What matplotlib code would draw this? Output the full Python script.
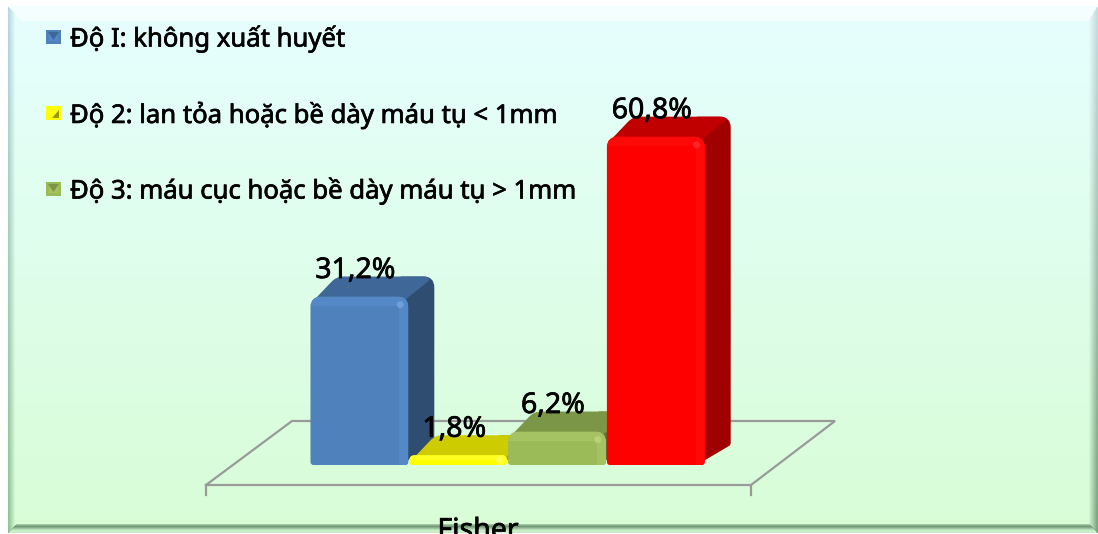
"""Fisher grade bar chart with a bevelled panel and pseudo-3D bars."""

import matplotlib
matplotlib.use("Agg")
import matplotlib.pyplot as plt
import matplotlib.patches as mpatches
import matplotlib.patheffects as pe
from matplotlib.path import Path
import numpy as np

plt.rcParams["font.family"] = ["Noto Sans", "DejaVu Sans"]

# ---------------------------------------------------------------------------
# Data
# ---------------------------------------------------------------------------
grades = [
    "Độ I: không xuất huyết",
    "Độ 2: lan tỏa hoặc bề dày máu tụ < 1mm",
    "Độ 3: máu cục hoặc bề dày máu tụ > 1mm",
]
values = [31.2, 1.8, 6.2, 60.8]
value_labels = ["31,2%", "1,8%", "6,2%", "60,8%"]
axis_label = "Fisher"

front_colors = ["#4F81BD", "#FFFF00", "#9BBB59", "#FF0000"]
light_colors = ["#5588C6", "#FFFF20", "#A5C362", "#FF0808"]
shine_colors = ["#7FB0E8", "#FFFF70", "#C8DE80", "#FF3A3A"]
top_colors = ["#3F6797", "#CCCC00", "#7C9647", "#C00000"]
side_colors = ["#2F4D71", "#999900", "#5D7035", "#A00000"]

# ---------------------------------------------------------------------------
# Layout (pixels)
# ---------------------------------------------------------------------------
W, H = 1098, 534
PX_PER_BAR = 98.8      # one bar slot along x
PX_PER_PCT = 5.4       # one percent along y
LEFT_PX = 310          # left edge of first bar
BASE_PX = 465          # baseline measured from the top
DEPTH_X = 26 / PX_PER_BAR
DEPTH_Y = 20 / PX_PER_PCT

fig = plt.figure(figsize=(W / 100, H / 100), dpi=100)
ax = fig.add_axes([0, 0, 1, 1])
ax.set_xlim(-LEFT_PX / PX_PER_BAR, (W - LEFT_PX) / PX_PER_BAR)
ax.set_ylim(-(H - BASE_PX) / PX_PER_PCT, BASE_PX / PX_PER_PCT)
ax.axis("off")

thick = [pe.withStroke(linewidth=0.5, foreground="black")]


def px(x, y):
    """Pixel position from the top-left corner, as axes fractions."""
    return x / W, 1 - y / H


def panel_poly(points, color, zorder=1):
    ax.add_patch(mpatches.Polygon([px(*p) for p in points], closed=True, fc=color,
                                  ec="none", transform=ax.transAxes, zorder=zorder))


def rounded_path(points, radii):
    """Closed path through data points, each corner rounded by a radius in pixels."""
    scale = np.array([PX_PER_BAR, PX_PER_PCT])
    pts = np.array(points) * scale
    verts, codes = [], []
    n = len(pts)
    for k in range(n):
        p, prev, nxt = pts[k], pts[k - 1], pts[(k + 1) % n]
        to_prev = (prev - p) / np.linalg.norm(prev - p)
        to_next = (nxt - p) / np.linalg.norm(nxt - p)
        r = radii[k]
        verts += [p + to_prev * r, p, p + to_next * r]
        codes += [Path.LINETO, Path.CURVE3, Path.CURVE3]
    codes[0] = Path.MOVETO
    verts.append(verts[0])
    codes.append(Path.CLOSEPOLY)
    return Path(np.array(verts) / scale, codes)


# ---------------------------------------------------------------------------
# Panel: vertical gradient plus soft bevels on each edge
# ---------------------------------------------------------------------------
PANEL = (8, 6, 1097, 532)
BAND_L, BAND_R, BAND_T, BAND_B = 7.0, 9.0, 15.0, 9.0

yy, xx = np.mgrid[0:H, 0:W].astype(float)
t = np.clip((yy - PANEL[1]) / (PANEL[3] - PANEL[1]), 0, 1)[..., None]
top_rgb = np.array([0xE6, 0xFF, 0xFF]) / 255
bottom_rgb = np.array([0xD8, 0xFD, 0xD6]) / 255
img = top_rgb + (bottom_rgb - top_rgb) * t

d_left = xx - PANEL[0]
d_right = PANEL[2] - xx
d_top = yy - PANEL[1]
d_bot = PANEL[3] - yy

left_rgb = np.array([0.72, 0.84, 0.88]) * (1 - t) + np.array([0.56, 0.76, 0.58]) * t
right_rgb = np.array([0.78, 0.86, 0.88]) * (1 - t) + np.array([0.47, 0.63, 0.49]) * t
top_band = np.array([0.97, 1.0, 1.0])
bottom_band = np.array([0.45, 0.60, 0.47])


def blend(base, mask, rgb):
    return base * (1 - mask[..., None]) + rgb * mask[..., None]


in_left = (d_left < BAND_L) & (d_left <= d_top) & (d_left <= d_bot)
img = blend(img, np.where(in_left, 1 - d_left / BAND_L, 0.0), left_rgb)
in_right = (d_right < BAND_R) & (d_right <= d_top) & (d_right <= d_bot)
img = blend(img, np.where(in_right, 1 - d_right / BAND_R, 0.0), right_rgb)
in_top = (d_top < BAND_T) & (d_top <= d_left * 1.1) & (d_top <= d_right * 1.6)
img = blend(img, np.where(in_top, 0.85, 0.0), top_band)
in_bot = (d_bot < BAND_B) & (d_bot <= d_left) & (d_bot <= d_right)
img = blend(img, np.where(in_bot, np.clip(1 - np.abs(d_bot - 6) / 4.5, 0.15, 1), 0.0), bottom_band)

img[(d_left < 0) | (d_right < 0) | (d_top < 0) | (d_bot < 0)] = 1.0
ax.imshow(img, aspect="auto", zorder=0, extent=(0, 1, 0, 1), transform=ax.transAxes,
          interpolation="nearest", origin="upper")

# Floor of the 3D plot
floor = [(206, 485), (292, 421), (835, 421), (751, 485), (206, 485)]
ax.plot(*zip(*[px(*p) for p in floor]), color="#9A9A9A", lw=1.6,
        transform=ax.transAxes, zorder=1, solid_joinstyle="miter")
for tick_x in (206, 751):
    ax.plot(*zip(px(tick_x, 485), px(tick_x, 495)), color="#9A9A9A", lw=1.6,
            transform=ax.transAxes, zorder=1)


# ---------------------------------------------------------------------------
# Bars
# ---------------------------------------------------------------------------
def draw_bar(i, value):
    x0, x1 = i + 0.005, i + 0.995
    z = 4 + i
    back = value + DEPTH_Y
    inset_x = 8 / PX_PER_BAR
    inset_y = 8 / PX_PER_PCT
    low_r = min(3, value * PX_PER_PCT * 0.3)
    high_r = min(11, value * PX_PER_PCT * 0.55)

    # Right side and top run back from the front face
    side = rounded_path([(x1 - inset_x, 0), (x1 + DEPTH_X, DEPTH_Y), (x1 + DEPTH_X, back),
                         (x1 - inset_x, back)], [1, 2, 11, 1])
    ax.add_patch(mpatches.PathPatch(side, fc=side_colors[i], ec="none", zorder=z + 0.1))
    top = rounded_path([(x0 + inset_x * 0.3, value - inset_y * 0.6), (x0 + DEPTH_X, back),
                        (x1 + DEPTH_X, back), (x1 - inset_x * 0.5, value - inset_y * 0.5)],
                       [1, 7, 11, 1])
    ax.add_patch(mpatches.PathPatch(top, fc=top_colors[i], ec="none", zorder=z + 0.15))

    front = mpatches.PathPatch(
        rounded_path([(x0, 0), (x1, 0), (x1, value), (x0, value)],
                     [low_r, low_r, high_r, high_r]),
        fc=front_colors[i], ec="none", zorder=z + 0.2)
    ax.add_patch(front)

    # Lighter bevel along the top and right of the front face
    edge_x = 9 / PX_PER_BAR
    edge_y = min(9, value * PX_PER_PCT * 0.5) / PX_PER_PCT
    for rect in (mpatches.Rectangle((x1 - edge_x, 0), edge_x, value),
                 mpatches.Rectangle((x0, value - edge_y), x1 - x0, edge_y)):
        rect.set(fc=light_colors[i], ec="none", zorder=z + 0.3)
        ax.add_patch(rect)
        rect.set_clip_path(front)
    ax.add_patch(mpatches.Ellipse((x1 - edge_x * 0.9, value - edge_y * 0.9),
                                  7 / PX_PER_BAR, 7 / PX_PER_PCT, fc=shine_colors[i],
                                  ec="none", alpha=0.6, zorder=z + 0.4))


for i, value in enumerate(values):
    draw_bar(i, value)

# Value labels sit just above the back edge of each bar
for i, (value, text) in enumerate(zip(values, value_labels)):
    ax.annotate(text, (i + 0.5, value), xytext=(-4 * 0.72, 26 * 0.72),
                textcoords="offset points", ha="center", va="center", fontsize=20.5,
                color="black", zorder=20, path_effects=thick)

# Legend
legend_y = [37, 113, 189]
for i, (y, text) in enumerate(zip(legend_y, grades)):
    panel_poly([(46, y - 7), (61, y - 7), (61, y + 7), (46, y + 7)], front_colors[i], zorder=6)
    panel_poly([(49, y - 4), (58, y - 4), (58, y + 4), (49, y + 4)], light_colors[i], zorder=6.1)
    if i == 1:
        panel_poly([(52, y + 5), (59, y - 3), (59, y + 5)], side_colors[i], zorder=6.2)
    else:
        panel_poly([(48, y - 5), (59, y - 5), (53.5, y + 3)], top_colors[i], zorder=6.2)
    ax.text(*px(70, y + 2), text, transform=ax.transAxes, ha="left", va="center",
            fontsize=18.5, color="black", zorder=20, path_effects=thick)

# Category label, cut by the bottom edge of the panel
fisher = ax.text(*px(478, 531), axis_label, transform=ax.transAxes, ha="center", va="center",
                 fontsize=20.5, color="black", zorder=2, path_effects=thick)
fisher.set_clip_path(mpatches.Rectangle((0, 1 - 527 / H), 1, 527 / H, transform=ax.transAxes))

fig.savefig("out.png", dpi=100, facecolor="white")
